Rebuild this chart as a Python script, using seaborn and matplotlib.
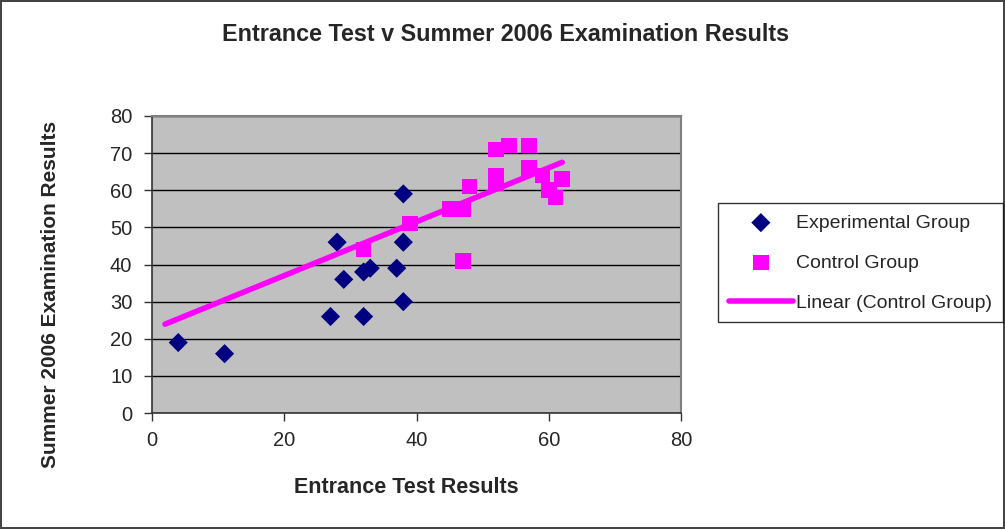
import numpy as np
import pandas as pd
import matplotlib
matplotlib.use("Agg")
import matplotlib.pyplot as plt
import seaborn as sns

# ---------------------------------------
# data
# ---------------------------------------
exp_x = [4, 11, 27, 28, 29, 32, 32, 33, 37, 38, 38, 38]
exp_y = [19, 16, 26, 46, 36, 26, 38, 39, 39, 30, 46, 59]

ctrl_x = [32, 39, 45, 46, 47, 47, 48, 52, 52, 52, 54, 57, 57, 59, 60, 61, 62]
ctrl_y = [44, 51, 55, 55, 55, 41, 61, 71, 64, 62, 72, 72, 66, 64, 60, 58, 63]

trend_range = [2, 62]  # span of the Excel trendline

exp_df = pd.DataFrame({"x": exp_x, "y": exp_y})
ctrl_df = pd.DataFrame({"x": ctrl_x, "y": ctrl_y})

slope, intercept = np.polyfit(ctrl_x, ctrl_y, 1)
trend_df = pd.DataFrame({"x": trend_range})
trend_df["y"] = slope * trend_df["x"] + intercept

# ---------------------------------------
# style
# ---------------------------------------
sns.set_style("white")
plt.rcParams["font.family"] = ["Liberation Sans", "DejaVu Sans"]

fig = plt.figure(figsize=(10.05, 5.29), dpi=100, edgecolor="#444444", linewidth=1.5)
ax = fig.add_axes([0.151, 0.219, 0.527, 0.562])
ax.set_facecolor("#C0C0C0")

sns.scatterplot(data=exp_df, x="x", y="y", ax=ax, marker="D", s=95,
                color="#000080", edgecolor="none", label="Experimental Group", zorder=3)
sns.scatterplot(data=ctrl_df, x="x", y="y", ax=ax, marker="s", s=125,
                color="#FF00FF", edgecolor="none", label="Control Group", zorder=3)
sns.lineplot(data=trend_df, x="x", y="y", ax=ax, color="#FF00FF", linewidth=4,
             solid_capstyle="round", label="Linear (Control Group)", zorder=4)

ax.set_xlim(0, 80)
ax.set_ylim(0, 80)
ax.set_xticks(range(0, 81, 20))
ax.set_yticks(range(0, 81, 10))
ax.yaxis.grid(True, color="black", linewidth=1)
ax.set_axisbelow(True)
for side in ["top", "right"]:
    ax.spines[side].set_color("#808080")
    ax.spines[side].set_linewidth(1.5)
for side in ["left", "bottom"]:
    ax.spines[side].set_color("#333333")
    ax.spines[side].set_linewidth(1.2)
ax.tick_params(axis="both", which="both", direction="out", length=6, width=1,
               color="#333333", labelsize=14.5, left=True, bottom=True)
ax.tick_params(axis="y", pad=8)
ax.tick_params(axis="x", pad=7)

ax.set_xlabel("Entrance Test Results", fontsize=15.5, fontweight="bold")
ax.xaxis.set_label_coords(0.48, -0.215)
ax.set_ylabel("Summer 2006 Examination Results", fontsize=15, fontweight="bold")
ax.yaxis.set_label_coords(-0.173, 0.40)
fig.text(0.503, 0.934, "Entrance Test v Summer 2006 Examination Results",
         ha="center", va="center", fontsize=16.8, fontweight="bold")

handles, labels = ax.get_legend_handles_labels()
ax.get_legend().remove()
leg = fig.legend(handles, labels, loc="center left", bbox_to_anchor=(0.7145, 0.503),
                 fontsize=14, frameon=True, fancybox=False, edgecolor="black",
                 labelspacing=1.15, handlelength=3.3, borderpad=0.55, handletextpad=0.15,
                 borderaxespad=0)
leg.get_frame().set_linewidth(1)

fig.savefig("out.png", dpi=100)
